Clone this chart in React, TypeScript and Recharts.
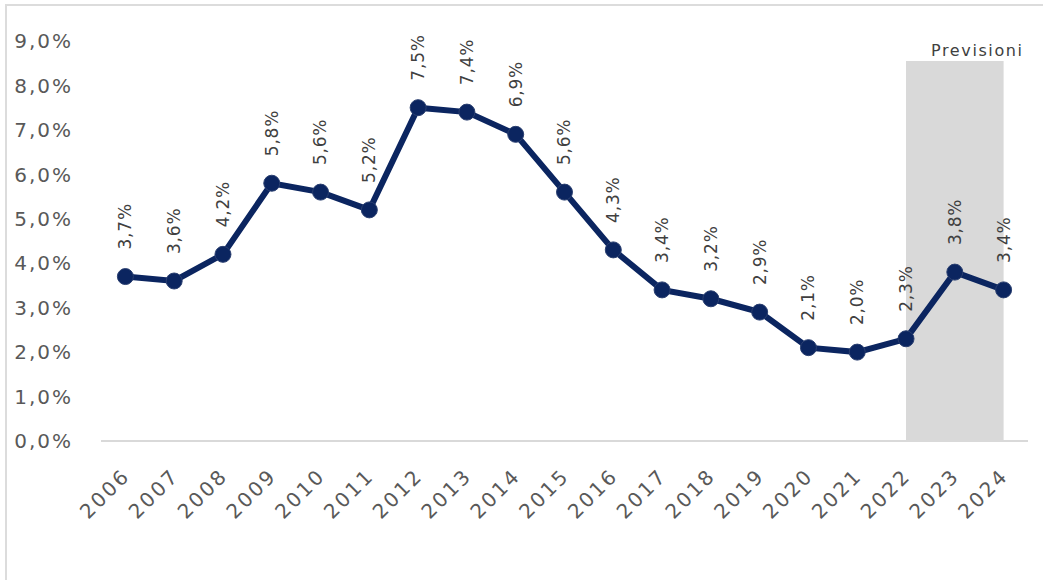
import { ComposedChart, Line, XAxis, YAxis, ReferenceArea, LabelList } from 'recharts';

const years = [2006, 2007, 2008, 2009, 2010, 2011, 2012, 2013, 2014, 2015, 2016, 2017, 2018, 2019, 2020, 2021, 2022, 2023, 2024];
const growth = [3.7, 3.6, 4.2, 5.8, 5.6, 5.2, 7.5, 7.4, 6.9, 5.6, 4.3, 3.4, 3.2, 2.9, 2.1, 2.0, 2.3, 3.8, 3.4];
const yTicks = [0, 1, 2, 3, 4, 5, 6, 7, 8, 9];
const forecastFrom = 2022;
const forecastTo = 2024;
const forecastTop = 8.55;
const forecastLabel = 'Previsioni';

const FONT = '"DejaVu Sans", sans-serif';
const NAVY = '#0b2560';

const fmt = (v: number) => v.toFixed(1).replace('.', ',') + '%';

const data = years.map((y, i) => ({ year: y, value: growth[i] }));

function YTick({ y, payload }: any) {
  return (
    <text x={73} y={y} dy="0.36em" textAnchor="end" fill="#595959" fontSize={20} fontFamily={FONT} letterSpacing={2}>
      {fmt(payload.value)}
    </text>
  );
}

function XTick({ x, y, payload }: any) {
  const tx = x + 6;
  const ty = y + 28;
  return (
    <text x={tx} y={ty} transform={`rotate(-45, ${tx}, ${ty})`} textAnchor="end" fill="#595959" fontSize={20} fontFamily={FONT} letterSpacing={2.5}>
      {payload.value}
    </text>
  );
}

function PointLabel({ x, y, value }: any) {
  const ly = y - 27;
  return (
    <text x={x} y={ly} dy="0.35em" transform={`rotate(-90, ${x}, ${ly})`} textAnchor="start" fill="#404040" fontSize={17} fontFamily={FONT} letterSpacing={0.8}>
      {fmt(value)}
    </text>
  );
}

function BandLabel({ viewBox }: any) {
  return (
    <text x={viewBox.x + viewBox.width + 20} y={viewBox.y - 5} textAnchor="end" fill="#404040" fontSize={16} fontFamily={FONT} letterSpacing={1.6}>
      {forecastLabel}
    </text>
  );
}

export default function App() {
  return (
    <div style={{ position: 'absolute', left: 0, top: 0, width: 1043, height: 580, background: '#fff', overflow: 'hidden' }}>
      <div style={{ position: 'absolute', left: 5, top: 4, width: 1038, height: 576, borderTop: '2px solid #dcdcdc', borderLeft: '2px solid #dcdcdc' }} />
      <ComposedChart width={1043} height={580} data={data} margin={{ top: 41, right: 15, bottom: 0, left: 0 }}>
        <XAxis
          dataKey="year"
          type="number"
          domain={[2005.5, 2024.5]}
          ticks={years}
          interval={0}
          height={139}
          tickLine={false}
          axisLine={{ stroke: '#d9d9d9', strokeWidth: 2 }}
          tick={<XTick />}
        />
        <YAxis
          domain={[0, 9]}
          ticks={yTicks}
          width={101}
          axisLine={false}
          tickLine={false}
          tick={<YTick />}
        />
        <ReferenceArea
          x1={forecastFrom}
          x2={forecastTo}
          y1={0}
          y2={forecastTop}
          fill="#d9d9d9"
          fillOpacity={1}
          stroke="none"
          label={<BandLabel />}
        />
        <Line
          type="linear"
          dataKey="value"
          stroke={NAVY}
          strokeWidth={6}
          dot={{ r: 8, fill: NAVY, stroke: '#2a3f70', strokeWidth: 1 }}
          isAnimationActive={false}
        >
          <LabelList dataKey="value" content={<PointLabel />} />
        </Line>
      </ComposedChart>
    </div>
  );
}
